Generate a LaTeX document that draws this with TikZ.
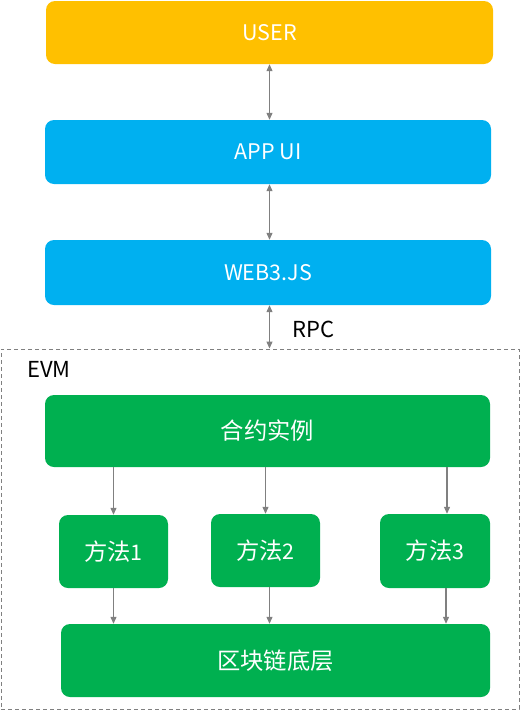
\documentclass[tikz,border=0pt]{standalone}
\usepackage{fontspec}
\setmainfont{Noto Sans CJK SC}
\usetikzlibrary{arrows.meta}
\definecolor{userorange}{HTML}{FFC000}
\definecolor{uiblue}{HTML}{00B0F0}
\definecolor{evmgreen}{HTML}{00B050}
\definecolor{linegray}{HTML}{808080}
\tikzset{
    box/.style={rectangle, rounded corners=9pt, draw=none, text=white, inner sep=0pt,
        font=\fontsize{21.5}{24}\selectfont},
    cjk/.style={font=\fontsize{23.3}{26}\selectfont},
    link/.style={draw=linegray, line width=1.1pt, -{Triangle[length=7pt, width=6pt]}},
    twolink/.style={link, {Triangle[length=7pt, width=6pt]}-{Triangle[length=7pt, width=6pt]}},
    tag/.style={draw=none, fill=none, text=black, inner sep=0pt, anchor=west,
        font=\fontsize{22}{24}\selectfont}
}

\begin{document}
\begin{tikzpicture}[x=1pt, y=-1pt]
    \useasboundingbox (0,0) rectangle (520,710);

    \node (user) [box, fill=userorange, minimum width=447pt, minimum height=63pt] at (269.5, 32.5) {USER};
    \node (app) [box, fill=uiblue, minimum width=446pt, minimum height=64pt] at (268, 152) {APP UI};
    \node (web3) [box, fill=uiblue, minimum width=446pt, minimum height=65pt] at (268, 272.5) {WEB3.JS};

    \node (evm) [rectangle, draw=linegray, dash pattern=on 4pt off 3pt, line width=0.9pt,
        minimum width=518pt, minimum height=360pt, inner sep=0pt] at (260, 529) {};
    \node (evmtag) [tag] at (27, 369) {EVM};

    \node (contract) [box, cjk, fill=evmgreen, minimum width=445pt, minimum height=72pt] at (267.5, 431) {合约实例};
    \node (m1) [box, fill=evmgreen, minimum width=109pt, minimum height=73pt] at (113.5, 551.5) {{\fontsize{23.3}{26}\selectfont 方法}1};
    \node (m2) [box, fill=evmgreen, minimum width=109pt, minimum height=73pt] at (265.5, 550.5) {{\fontsize{23.3}{26}\selectfont 方法}2};
    \node (m3) [box, fill=evmgreen, minimum width=110pt, minimum height=74pt] at (435, 551) {{\fontsize{23.3}{26}\selectfont 方法}3};
    \node (chain) [box, cjk, fill=evmgreen, minimum width=429pt, minimum height=73pt] at (275.5, 660.5) {区块链底层};

    \node (rpc) [tag] at (292, 329) {RPC};

    % top links
    \draw [twolink] (user.south) -- (user.south |- app.north);
    \draw [twolink] (user.south |- app.south) -- (user.south |- web3.north);
    \draw [twolink] (user.south |- web3.south) -- (user.south |- evm.north);

    % contract to methods
    \draw [link] (contract.south -| m1) -- (m1);
    \draw [link] (contract.south -| m2) -- (m2);
    \draw [link] ([xshift=12pt]m3.north |- contract.south) -- ([xshift=12pt]m3.north);

    % methods to chain
    \draw [link] (m1) -- (m1 |- chain.north);
    \draw [link] ([xshift=4pt]m2.south) -- ([xshift=4pt]m2.south |- chain.north);
    \draw [link] ([xshift=11pt]m3.south) -- ([xshift=11pt]m3.south |- chain.north);
\end{tikzpicture}
\end{document}
